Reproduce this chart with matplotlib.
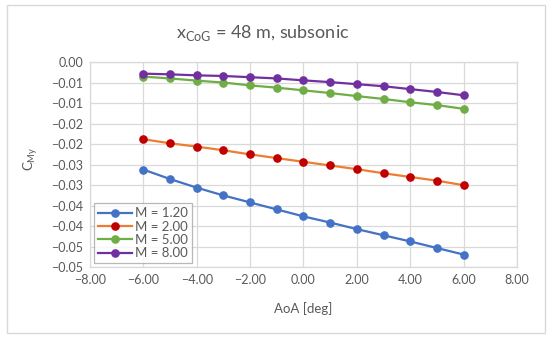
import matplotlib
matplotlib.use("Agg")
import matplotlib.pyplot as plt
from matplotlib.patches import Rectangle

aoa = [-6, -5, -4, -3, -2, -1, 0, 1, 2, 3, 4, 5, 6]
cmy_m120 = [-0.0262, -0.0285, -0.0306, -0.0325, -0.0342, -0.0359, -0.0376,
            -0.0391, -0.0407, -0.0422, -0.0437, -0.0453, -0.0469]
cmy_m200 = [-0.0188, -0.0198, -0.0206, -0.0215, -0.0225, -0.0234, -0.0243,
            -0.0252, -0.0261, -0.0271, -0.0280, -0.0289, -0.0300]
cmy_m500 = [-0.00356, -0.0040, -0.00454, -0.0050, -0.0057, -0.00625, -0.0069,
            -0.00756, -0.0083, -0.0090, -0.0098, -0.0105, -0.0114]
cmy_m800 = [-0.00283, -0.0030, -0.00325, -0.0034, -0.0037, -0.0040, -0.00447,
            -0.0049, -0.0054, -0.0059, -0.0066, -0.0073, -0.0081]
series_labels = ["M = 1.20", "M = 2.00", "M = 5.00", "M = 8.00"]

x_ticks = [-8, -6, -4, -2, 0, 2, 4, 6, 8]
x_tick_labels = ["\u22128.00", "\u22126.00", "\u22124.00", "\u22122.00", "0.00", "2.00", "4.00", "6.00", "8.00"]
y_ticks = [0.0, -0.005, -0.01, -0.015, -0.02, -0.025, -0.03, -0.035, -0.04, -0.045, -0.05]
y_tick_labels = ["0.00", "\u22120.01", "\u22120.01", "\u22120.02", "\u22120.02", "\u22120.03",
                 "\u22120.03", "\u22120.04", "\u22120.04", "\u22120.05", "\u22120.05"]

plt.rcParams['font.family'] = ['Lato', 'DejaVu Sans']

fig = plt.figure(figsize=(5.5, 3.4), dpi=100)
fig.patches.append(Rectangle((0.0127, 0.0206), 0.978, 0.964, transform=fig.transFigure,
                             fill=False, edgecolor="#D9D9D9", linewidth=1.0))
ax = fig.add_axes([0.1636, 0.2138, 0.7764, 0.6038])

txt = "#595959"
styles = [
    dict(color="#4472C4", mfc="#4472C4", mec="#4472C4"),
    dict(color="#ED7D31", mfc="#C00000", mec="#C00000"),
    dict(color="#70AD47", mfc="#70AD47", mec="#70AD47"),
    dict(color="#7030A0", mfc="#7030A0", mec="#7030A0"),
]
for vals, lab, st in zip([cmy_m120, cmy_m200, cmy_m500, cmy_m800], series_labels, styles):
    ax.plot(aoa, vals, marker="o", markersize=5.2, linewidth=1.6, label=lab, **st)

ax.set_xlim(-8, 8)
ax.set_ylim(-0.05, 0.0)
ax.set_xticks(x_ticks)
ax.set_xticklabels(x_tick_labels)
ax.set_yticks(y_ticks)
ax.set_yticklabels(y_tick_labels)
ax.tick_params(length=0, labelsize=9, colors=txt, pad=5)
ax.grid(True, color="#D9D9D9", linewidth=0.9)
ax.set_axisbelow(True)
for s in ax.spines.values():
    s.set_color("#D9D9D9")
    s.set_linewidth(0.9)

ax.set_xlabel("AoA [deg]", fontsize=9.5, color=txt)
ax.xaxis.set_label_coords(0.5, -0.17)
ax.set_ylabel(r"C$_{\mathregular{My}}$", fontsize=9.5, color=txt)
ax.yaxis.set_label_coords(-0.118, 0.53)

fig.text(0.477, 0.903, r"x$_{\mathregular{CoG}}$ = 48 m, subsonic", fontsize=13,
         color=txt, ha="center", va="center")

leg = ax.legend(loc="lower left", fontsize=9.5, frameon=True, fancybox=False,
                borderaxespad=0.3, handlelength=2.6, handletextpad=0.2,
                labelspacing=0.1, borderpad=0.3, labelcolor=txt)
leg.get_frame().set_edgecolor("#A6A6A6")
leg.get_frame().set_linewidth(0.9)

fig.savefig("out.png", dpi=100)
